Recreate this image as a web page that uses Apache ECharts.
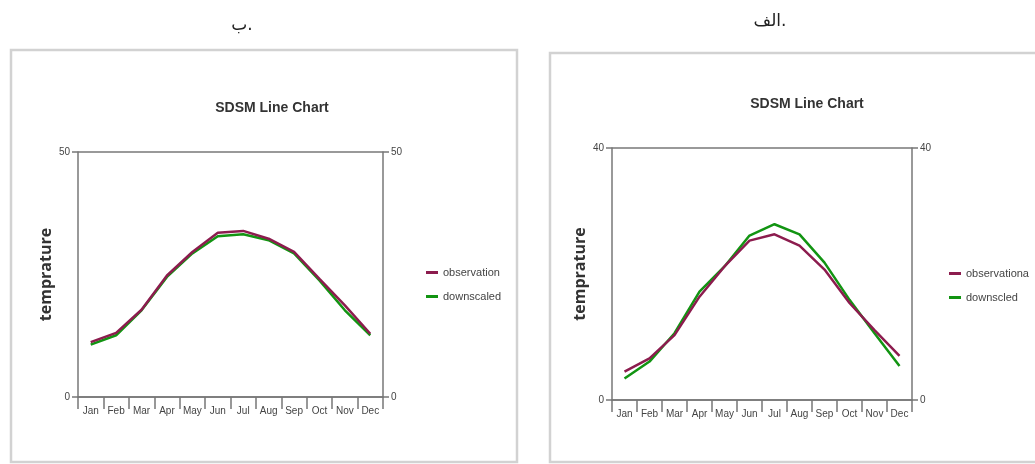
<!DOCTYPE html>
<html>
<head>
<meta charset="utf-8">
<script src="https://cdn.jsdelivr.net/npm/echarts@6/dist/echarts.min.js"></script>
<style>
  html, body { margin: 0; padding: 0; background: #fff; }
  #chart { width: 1035px; height: 464px; }
</style>
</head>
<body>
<div id="chart"></div>
<script>
var months = ['Jan', 'Feb', 'Mar', 'Apr', 'May', 'Jun', 'Jul', 'Aug', 'Sep', 'Oct', 'Nov', 'Dec'];

// panel ب. (left)
var obsB = [11.2, 13.1, 17.8, 24.8, 29.6, 33.5, 33.9, 32.3, 29.6, 24.1, 18.7, 12.9];
var downB = [10.7, 12.6, 17.7, 24.5, 29.3, 32.8, 33.2, 32.0, 29.3, 23.8, 17.7, 12.6];
var maxB = 50;

// panel الف. (right)
var obsA = [4.5, 6.6, 10.3, 16.4, 21.2, 25.3, 26.3, 24.5, 20.7, 15.4, 11.1, 7.0];
var downA = [3.4, 6.1, 10.6, 17.2, 21.2, 26.1, 27.9, 26.3, 21.8, 15.9, 10.6, 5.4];
var maxA = 40;

var chart = echarts.init(document.getElementById('chart'));

var narrow = "'Liberation Sans', Arial, sans-serif";
var maroon = '#8c1c4e';
var green = '#129412';

function xAxisFor(gi) {
    return {
        type: 'category',
        gridIndex: gi,
        data: months,
        boundaryGap: true,
        axisLine: { lineStyle: { color: '#777', width: 1.5 } },
        axisTick: { show: true, interval: 0, length: 12, lineStyle: { color: '#777', width: 1.5 } },
        axisLabel: { interval: 0, margin: 9, fontSize: 10, color: '#444', fontFamily: narrow },
        splitLine: { show: false }
    };
}

function yAxisFor(gi, max, pos, withName) {
    var ax = {
        type: 'value',
        gridIndex: gi,
        position: pos,
        min: 0,
        max: max,
        interval: max,
        axisLine: { show: true, lineStyle: { color: '#777', width: 1.5 } },
        axisTick: { show: true, length: 6, lineStyle: { color: '#777', width: 1.5 } },
        axisLabel: { margin: 8, fontSize: 10, color: '#444', fontFamily: narrow },
        splitLine: { show: pos === 'left', lineStyle: { color: '#777', width: 1.5 } }
    };
    if (withName) {
        ax.name = 'temprature';
        ax.nameLocation = 'middle';
        ax.nameRotate = 90;
        ax.nameGap = 24;
        ax.nameTextStyle = { fontSize: 16, fontWeight: 'bold', color: '#333', fontFamily: "'Open Sans', 'Liberation Sans', sans-serif" };
    }
    return ax;
}

function lineSeries(name, data, color, gi) {
    return {
        name: name,
        type: 'line',
        xAxisIndex: gi,
        yAxisIndex: gi * 2,
        data: data,
        showSymbol: false,
        symbol: 'none',
        lineStyle: { color: color, width: 2.5 },
        itemStyle: { color: color },
        silent: true
    };
}

var option = {
    animation: false,
    backgroundColor: '#fff',
    title: [
        { text: 'ب.', left: 237, top: 12, textAlign: 'center', textStyle: { fontSize: 17, fontWeight: 'normal', color: '#222', fontFamily: "'DejaVu Sans', sans-serif" } },
        { text: 'الف.', left: 765, top: 8, textAlign: 'center', textStyle: { fontSize: 17, fontWeight: 'normal', color: '#222', fontFamily: "'DejaVu Sans', sans-serif" } },
        { text: 'SDSM Line Chart', left: 267, top: 96, textAlign: 'center', textStyle: { fontSize: 14, fontWeight: 'bold', color: '#333', fontFamily: narrow } },
        { text: 'SDSM Line Chart', left: 802, top: 92, textAlign: 'center', textStyle: { fontSize: 14, fontWeight: 'bold', color: '#333', fontFamily: narrow } }
    ],
    graphic: [
        { type: 'rect', shape: { x: 11, y: 50, width: 506, height: 412 }, style: { fill: 'none', stroke: '#d2d2d2', lineWidth: 2.5 }, silent: true },
        { type: 'rect', shape: { x: 550, y: 53, width: 490, height: 409 }, style: { fill: 'none', stroke: '#d2d2d2', lineWidth: 2.5 }, silent: true }
    ],
    legend: [
        {
            orient: 'vertical', left: 421, top: 262, itemGap: 13,
            itemWidth: 12, itemHeight: 3, icon: 'rect',
            data: ['observation', 'downscaled'],
            textStyle: { fontSize: 11, color: '#444', fontFamily: narrow },
            selectedMode: false
        },
        {
            orient: 'vertical', left: 944, top: 263, itemGap: 13,
            itemWidth: 12, itemHeight: 3, icon: 'rect',
            data: ['observationa', 'downscled'],
            textStyle: { fontSize: 11, color: '#444', fontFamily: narrow },
            selectedMode: false
        }
    ],
    grid: [
        { left: 78, top: 152, width: 305, height: 245, containLabel: false },
        { left: 612, top: 148, width: 300, height: 252, containLabel: false }
    ],
    xAxis: [xAxisFor(0), xAxisFor(1)],
    yAxis: [
        yAxisFor(0, maxB, 'left', true),
        yAxisFor(0, maxB, 'right', false),
        yAxisFor(1, maxA, 'left', true),
        yAxisFor(1, maxA, 'right', false)
    ],
    series: [
        lineSeries('downscaled', downB, green, 0),
        lineSeries('observation', obsB, maroon, 0),
        lineSeries('downscled', downA, green, 1),
        lineSeries('observationa', obsA, maroon, 1)
    ]
};

chart.setOption(option);
</script>
</body>
</html>
